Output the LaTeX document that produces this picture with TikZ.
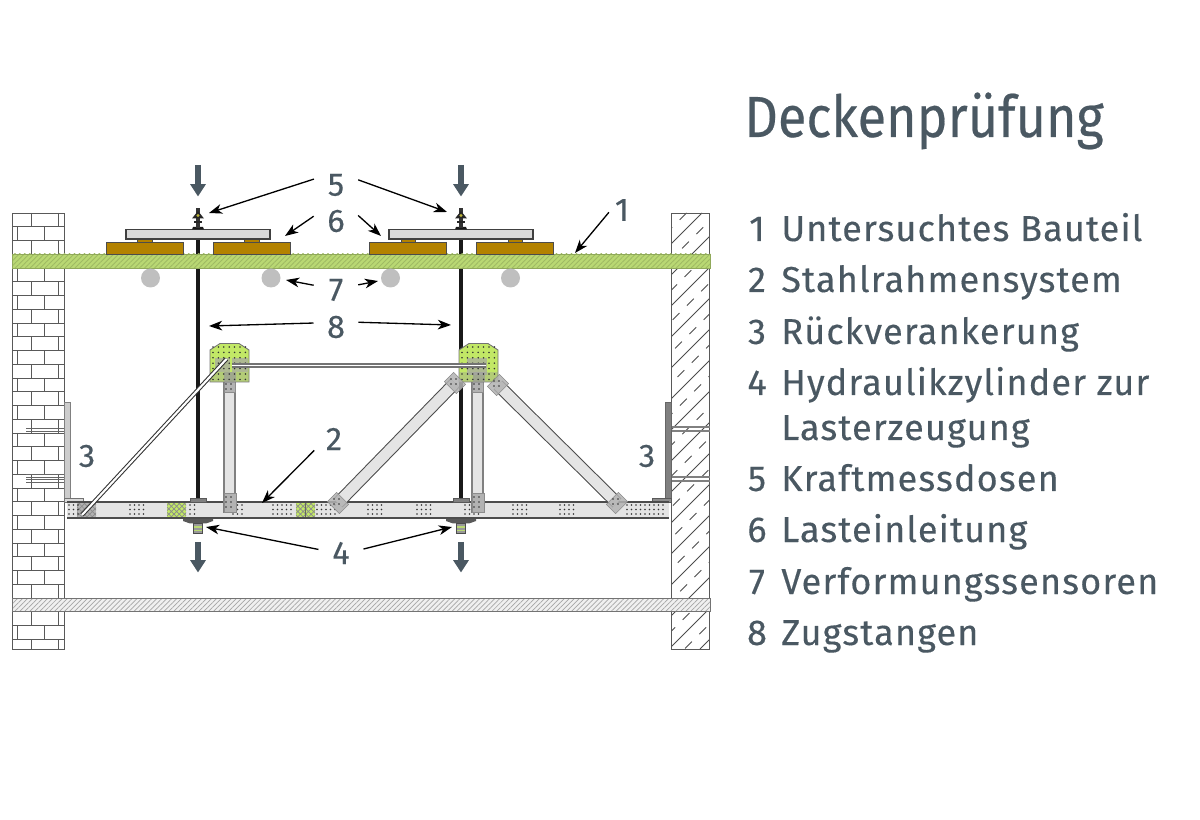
\documentclass[tikz,border=0pt]{standalone}
\usepackage{fontspec}
\setmainfont{Fira Sans}
\newfontfamily\titlefont[FakeStretch = 0.9, FakeBold = 0.35]{Fira Sans}
\newfontfamily\itemfont[LetterSpace = 3.2, FakeBold = 0.3]{Fira Sans}
\usetikzlibrary{arrows.meta, patterns, patterns.meta}
\definecolor{slate}{HTML}{4A5862}
\definecolor{slabgreen}{HTML}{B9D873}
\definecolor{gussetgreen}{HTML}{C2E866}
\definecolor{timber}{HTML}{B38200}
\definecolor{steel}{HTML}{E4E4E4}
\newcommand{\dotgrid}[5]{\foreach \i in {1,...,#2} \foreach \j in {1,...,#4} \fill [griddot] ({#1+(\i-1)*#5},{#3+(\j-1)*#5}) circle (0.5pt);}

\begin{document}
\begin{tikzpicture}[x = 0.02cm, y = -0.02cm]

\tikzset{
griddot/.style = {black!80},
wallline/.style = {line width = 0.5pt, black!65},
hatchline/.style = {line width = 0.5pt, black!70},
timberblock/.style = {fill = timber, draw = black!70, line width = 0.5pt},
loadplate/.style = {fill = black!15, draw = black!75, line width = 0.9pt},
sensor/.style = {circle, fill = black!25, minimum size = 0.38cm, inner sep = 0pt},
rod/.style = {line width = 1.9pt, black!90},
loadarrow/.style = {-{Triangle[length = 7pt, width = 8.5pt]}, line width = 3.2pt, slate},
strut/.style = {line width = 0.6pt, black!70, double = steel, double distance = 6pt},
thinstrut/.style = {line width = 0.6pt, black!80, double = white, double distance = 1.2pt},
tierod/.style = {line width = 0.8pt, black!55, double = white, double distance = 0.9pt},
tieplate/.style = {rectangle, fill = black!30, fill opacity = 0.85, draw = black!45, line width = 0.3pt, minimum width = 0.34cm, minimum height = 0.26cm, inner sep = 0pt},
pointer/.style = {-{Stealth[length = 7.5pt, width = 5.5pt, inset = 2.2pt]}, line width = 0.75pt, black},
callout/.style = {circle, minimum size = 0.9cm, inner sep = 0pt, text = slate, font = \itemfont\fontsize{18.5}{20}\selectfont},
itemnum/.style = {anchor = base, text = slate, inner sep = 0pt, font = \itemfont\fontsize{20.5}{24}\selectfont},
itemtext/.style = {anchor = base west, text = slate, inner sep = 0pt, font = \itemfont\fontsize{20.5}{24}\selectfont},
}

\useasboundingbox (0, 0) rectangle (1200, 820);

% Brick wall
\begin{scope}
\clip (12, 213) rectangle (64.5, 649);
\foreach \k in {0, 2, 5, 7, 9, 11, 13, 15, 17, 19, 21, 23, 25, 27, 29, 31} {
  \draw [wallline] (31, {213+\k*13.75}) -- (31, {213+(\k+1)*13.75});
  \draw [wallline] (58, {213+\k*13.75}) -- (58, {213+(\k+1)*13.75});
}
\foreach \k in {1, 4, 6, 8, 10, 12, 14, 16, 18, 20, 22, 24, 26, 28, 30} {
  \draw [wallline] (17, {213+\k*13.75}) -- (17, {213+(\k+1)*13.75});
  \draw [wallline] (44, {213+\k*13.75}) -- (44, {213+(\k+1)*13.75});
}
\foreach \k in {1, ..., 31} \draw [wallline] (12, {213+\k*13.75}) -- (65, {213+\k*13.75});
\end{scope}
\draw [wallline] (12, 213) rectangle (64.5, 649);

% Concrete wall
\begin{scope}
\clip (671.5, 213) rectangle (709.5, 649);
\foreach \s in {884, 915, ..., 1370} {
  \draw [hatchline] (\s-213, 213) -- (\s-649, 649);
  \draw [hatchline, dash pattern = on 5.5pt off 6pt] (\s+15.5-213, 213) -- (\s+15.5-649, 649);
}
\end{scope}
\draw [wallline] (671.5, 213) rectangle (709.5, 649);

% Rods
\draw [rod] (198, 239) -- (198, 500);
\draw [rod] (461, 239) -- (461, 500);

% Slabs
\fill [slabgreen] (12, 254) rectangle (710, 268);
\fill [pattern = {Lines[angle = 45, distance = 2pt, line width = 0.5pt]}, pattern color = black!14!slabgreen] (12, 254) rectangle (710, 268);
\draw [line width = 0.5pt, black!22!slabgreen] (12, 254) rectangle (710, 268);
\fill [black!6] (12, 598) rectangle (710, 611);
\fill [pattern = {Lines[angle = 45, distance = 2pt, line width = 0.4pt]}, pattern color = black!35] (12, 598) rectangle (710, 611);
\draw [line width = 0.5pt, black!55] (12, 598) rectangle (710, 611);

% Loading
\draw [timberblock] (106, 242) rectangle (183, 254);
\draw [timberblock] (213, 242) rectangle (290, 254);
\draw [timberblock] (369, 242) rectangle (446, 254);
\draw [timberblock] (476, 242) rectangle (553, 254);
\draw [timberblock] (137, 239) rectangle (152, 242);
\draw [timberblock] (244, 239) rectangle (259, 242);
\draw [timberblock] (401, 239) rectangle (415, 242);
\draw [timberblock] (508, 239) rectangle (522, 242);
\draw [loadplate] (126, 229.5) rectangle (270, 239);
\draw [loadplate] (389, 229.5) rectangle (533, 239);

% Load cells
\foreach \sx in {0, 263} {
  \fill [black!90] (192+\sx, 229.5) -- (193+\sx, 227) -- (203+\sx, 227) -- (204+\sx, 229.5) -- cycle;
  \draw [line width = 2.2pt, black!80] (198+\sx, 208.5) -- (198+\sx, 228);
  \fill [black!85] (192+\sx, 218.5) -- (198+\sx, 211) -- (204+\sx, 218.5) -- cycle;
  \fill [black!85] (194+\sx, 221.5) rectangle (202+\sx, 223.5);
  \fill [yellow!70!black] (198+\sx, 215.5) circle (0.9pt);
}

% Sensors
\node at (150.5, 278) [sensor] (sensA) {};
\node at (271, 278) [sensor] (sensB) {};
\node at (390.5, 278) [sensor] (sensC) {};
\node at (510.5, 278) [sensor] (sensD) {};

% Anchors
\foreach \y in {430, 476, 481} \draw [line width = 0.5pt, black!60] (26, \y-1.5) -- (64, \y-1.5) (26, \y+1) -- (64, \y+1);
\foreach \y in {429, 479} \draw [line width = 0.6pt, black!50] (672, \y-2) -- (710, \y-2) (672, \y+2) -- (710, \y+2);
\draw [fill = black!20, draw = black!50, line width = 0.5pt] (64.5, 402) rectangle (70.5, 498);
\draw [fill = black!15, draw = black!55, line width = 0.5pt] (64.5, 498) rectangle (83, 502);
\draw [fill = black!50, draw = black!60, line width = 0.5pt] (665, 402) rectangle (671.5, 500);
\draw [fill = black!45, draw = black!65, line width = 0.5pt] (652, 498) rectangle (671.5, 502);

% Beam
\fill [steel] (67, 502) rectangle (668.5, 518);
\fill [gussetgreen] (167, 503) rectangle (186, 517);
\fill [pattern = crosshatch, pattern color = black!45] (167, 503) rectangle (186, 517);
\fill [gussetgreen] (296, 503) rectangle (315, 517);
\fill [pattern = crosshatch, pattern color = black!45] (296, 503) rectangle (315, 517);
\draw [line width = 0.4pt, black!60] (305, 503) -- (305, 517);
\fill [black!30] (77, 503) rectangle (96, 517);
\fill [pattern = crosshatch, pattern color = black!45] (77, 503) rectangle (96, 517);
\draw [line width = 0.9pt, black!70] (67, 502) -- (668.5, 502) (67, 518) -- (668.5, 518);
\foreach \xa/\na in {69/3, 130/4, 190/2, 233/3, 273/5, 317/5, 368/4, 417/4, 465/4, 513/4, 560/4, 627/9} {
  \dotgrid{\xa}{\na}{505}{3}{4.5}
}

% Columns
\foreach \sx in {0, 248} {
  \draw [line width = 0.6pt, black!50, fill = steel] (224+\sx, 380) rectangle (235+\sx, 512);
  \draw [line width = 0.3pt, black!45, fill = black!30] (224+\sx, 380) rectangle (235.5+\sx, 392);
  \draw [line width = 0.3pt, black!45, fill = black!30] (224+\sx, 493) rectangle (236+\sx, 512);
  \dotgrid{226+\sx}{2}{384}{2}{5}
  \dotgrid{226+\sx}{2}{497}{3}{5}
}

% Gussets
\foreach \sx in {0, 249} {
  \draw [fill = gussetgreen, draw = black!55, line width = 0.5pt] (210+\sx, 382) -- (210+\sx, 350) -- (220+\sx, 343.5) -- (239+\sx, 343.5) -- (249+\sx, 350) -- (249+\sx, 382) -- cycle;
  \fill [black!40, fill opacity = 0.35] (210+\sx, 372) rectangle (249+\sx, 382);
  \fill [black!40, fill opacity = 0.7] (224+\sx, 372) rectangle (236+\sx, 382);
}
\fill [black!35, fill opacity = 0.7] (215, 358) rectangle (230, 372);
\fill [black!35, fill opacity = 0.7] (232, 358) rectangle (248, 372);
\fill [black!35, fill opacity = 0.7] (467, 358) rectangle (487, 375);
\foreach \sx in {0, 249} {
  \dotgrid{213+\sx}{7}{347}{7}{5.4}
}

% Struts
\coordinate (strutTopA) at (455, 383);
\coordinate (strutFootA) at (338, 503);
\coordinate (strutTopB) at (498, 385);
\coordinate (strutFootB) at (617, 503);
\coordinate (braceTop) at (226.5, 359);
\coordinate (braceFoot) at (82, 515);
\coordinate (tieLeft) at (232, 365.5);
\coordinate (tieRight) at (486, 365.5);
\draw [strut] (strutTopA) -- (strutFootA);
\draw [strut] (strutTopB) -- (strutFootB);
\draw [thinstrut] (braceTop) -- (braceFoot);
\draw [tierod] (tieLeft) -- (tieRight);
\node at (strutTopA) [tieplate, rotate = -45] (plateTopA) {};
\node at (strutFootA) [tieplate, rotate = -45] (plateFootA) {};
\node at (strutTopB) [tieplate, rotate = 45] (plateTopB) {};
\node at (strutFootB) [tieplate, rotate = 45] (plateFootB) {};
\dotgrid{334}{2}{499}{2}{5}
\dotgrid{451}{2}{379}{2}{5}
\dotgrid{494}{2}{381}{2}{5}
\dotgrid{613}{2}{499}{2}{5}

% Cylinders
\foreach \sx in {0, 263} {
  \draw [fill = black!50, draw = black!65, line width = 0.4pt] (190+\sx, 498) rectangle (206+\sx, 502);
  \fill [black!65] (183+\sx, 519) -- (213+\sx, 519) -- (213+\sx, 521) -- (206+\sx, 523.5) -- (190+\sx, 523.5) -- (183+\sx, 521) -- cycle;
  \draw [fill = black!40, draw = black!70, line width = 0.4pt] (193.5+\sx, 523.5) rectangle (202.5+\sx, 533.5);
  \fill [slabgreen] (194+\sx, 526) rectangle (202+\sx, 528);
  \fill [slabgreen] (194+\sx, 530) rectangle (202+\sx, 531.5);
}

% Load arrows
\coordinate (loadTopA) at (198, 165);
\coordinate (loadTopAend) at (198, 196.5);
\coordinate (loadTopB) at (461, 165);
\coordinate (loadTopBend) at (461, 196.5);
\coordinate (loadBotA) at (198, 542);
\coordinate (loadBotAend) at (198, 572.5);
\coordinate (loadBotB) at (461, 542);
\coordinate (loadBotBend) at (461, 572.5);
\path [loadarrow] (loadTopA) edge [] (loadTopAend);
\path [loadarrow] (loadTopB) edge [] (loadTopBend);
\path [loadarrow] (loadBotA) edge [] (loadBotAend);
\path [loadarrow] (loadBotB) edge [] (loadBotBend);

% Callouts
\node at (622, 210) [callout, minimum size = 0.5cm] (labelOne) {1};
\node at (334, 439) [callout] (labelTwo) {2};
\node at (87, 456) [callout] (labelThreeA) {3};
\node at (647, 456) [callout] (labelThreeB) {3};
\node at (341, 553) [callout] (labelFour) {4};
\node at (336, 185) [callout] (labelFive) {5};
\node at (336, 221) [callout] (labelSix) {6};
\node at (336, 290) [callout] (labelSeven) {7};
\node at (336, 327) [callout] (labelEight) {8};

% Targets
\coordinate (tipOne) at (575, 253);
\coordinate (tipTwo) at (262, 503);
\coordinate (tipFourA) at (206, 527);
\coordinate (tipFourB) at (452, 527);
\coordinate (tipFiveA) at (209, 213);
\coordinate (tipFiveB) at (447, 212);
\coordinate (tipSixA) at (285, 236);
\coordinate (tipSixB) at (381, 236);
\coordinate (tipSevenA) at (286, 280);
\coordinate (tipSevenB) at (378, 281);
\coordinate (tipEightA) at (209, 326);
\coordinate (tipEightB) at (451, 325);

% Pointers
\path [pointer] (labelOne.190) edge [] (tipOne);
\path [pointer] (labelTwo.210) edge [] (tipTwo);
\path [pointer] (labelFour.171) edge [] (tipFourA);
\path [pointer] (labelFour.10) edge [] (tipFourB);
\path [pointer] (labelFive.165) edge [] (tipFiveA);
\path [pointer] (labelFive.13) edge [] (tipFiveB);
\path [pointer] (labelSix.168) edge [] (tipSixA);
\path [pointer] (labelSix.14) edge [] (tipSixB);
\path [pointer] (labelSeven.168) edge [] (tipSevenA);
\path [pointer] (labelSeven.13) edge [] (tipSevenB);
\path [pointer] (labelEight.170) edge [] (tipEightA);
\path [pointer] (labelEight.12) edge [] (tipEightB);

% Legend
\node at (744, 137) [anchor = base west, text = slate, inner sep = 0pt, font = \titlefont\fontsize{33}{38}\selectfont] (title) {Deckenprüfung};
\node at (757, 241) [itemnum] (numOne) {1};
\node at (757, 292) [itemnum] (numTwo) {2};
\node at (757, 344) [itemnum] (numThree) {3};
\node at (757, 395) [itemnum] (numFour) {4};
\node at (757, 491) [itemnum] (numFive) {5};
\node at (757, 542) [itemnum] (numSix) {6};
\node at (757, 594) [itemnum] (numSeven) {7};
\node at (757, 645) [itemnum] (numEight) {8};
\node at (781, 241) [itemtext] (itemOne) {Untersuchtes Bauteil};
\node at (781, 292) [itemtext] (itemTwo) {Stahlrahmensystem};
\node at (781, 344) [itemtext] (itemThree) {Rückverankerung};
\node at (781, 395) [itemtext] (itemFour) {Hydraulikzylinder zur};
\node at (781, 440) [itemtext] (itemFourB) {Lasterzeugung};
\node at (781, 491) [itemtext] (itemFive) {Kraftmessdosen};
\node at (781, 542) [itemtext] (itemSix) {Lasteinleitung};
\node at (781, 594) [itemtext] (itemSeven) {Verformungssensoren};
\node at (781, 645) [itemtext] (itemEight) {Zugstangen};

\end{tikzpicture}
\end{document}
